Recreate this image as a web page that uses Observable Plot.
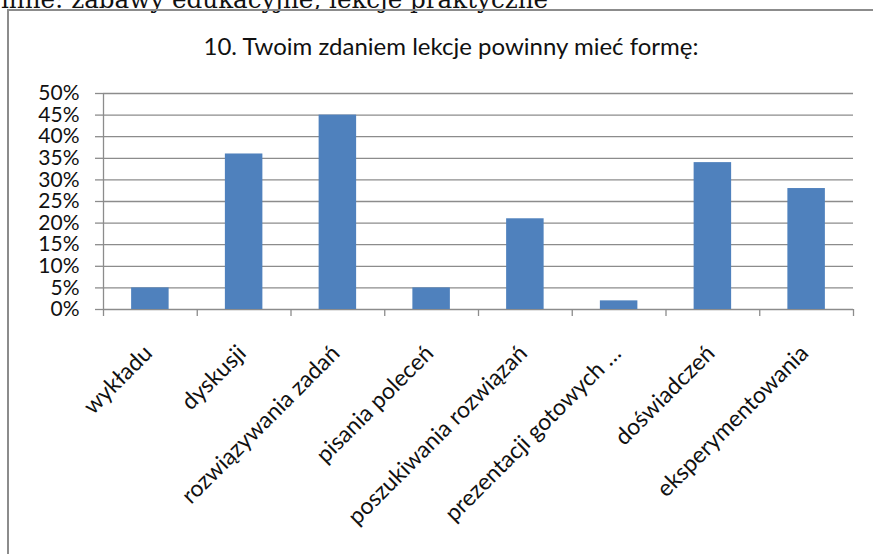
<!DOCTYPE html>
<html>
<head>
<meta charset="utf-8">
<script src="https://cdn.jsdelivr.net/npm/d3@7"></script>
<script src="https://cdn.jsdelivr.net/npm/@observablehq/plot@0.6"></script>
<style>
  html, body { margin: 0; padding: 0; background: #fff; }
  #wrap { position: relative; width: 873px; height: 554px; overflow: hidden; background: #fff; }
  #frame { position: absolute; left: 7px; top: 9px; width: 900px; height: 600px;
           border-top: 2px solid #8c8c8c; border-left: 2px solid #8c8c8c; }
  #pre { position: absolute; left: 1px; top: -15px; font-family: "DejaVu Serif", serif; font-size: 24.6px;
         white-space: nowrap; color: #111; }
  #title { position: absolute; left: 451px; top: 31px; transform: translateX(-50%);
           font-family: Lato, sans-serif; font-size: 24px; color: #111; white-space: nowrap; }
  #chart { position: absolute; left: 0; top: 0; }
</style>
</head>
<body>
<div id="wrap">
  <div id="pre"></div>
  <div id="frame"></div>
  <div id="title"></div>
  <div id="chart"></div>
</div>
<script>
const preText = "inne: zabawy edukacyjne, lekcje praktyczne";
const titleText = "10. Twoim zdaniem lekcje powinny mieć formę:";
const categories = ["wykładu", "dyskusji", "rozwiązywania zadań", "pisania poleceń",
  "poszukiwania rozwiązań", "prezentacji gotowych …", "doświadczeń", "eksperymentowania"];
const values = [0.05, 0.36, 0.45, 0.05, 0.21, 0.02, 0.34, 0.28];
const yTicks = [0, 0.05, 0.10, 0.15, 0.20, 0.25, 0.30, 0.35, 0.40, 0.45, 0.50];

document.getElementById("pre").textContent = preText;
document.getElementById("title").textContent = titleText;

const data = categories.map((c, i) => ({cat: c, i, value: values[i]}));
const boundaries = d3.range(0, categories.length + 1);
const centers = categories.map((c, i) => i + 0.5);
const gray = "#8c8c8c";

const chart = Plot.plot({
  width: 873,
  height: 554,
  marginLeft: 103,
  marginRight: 20,
  marginTop: 93,
  marginBottom: 245,
  style: {fontFamily: "Lato, sans-serif", fontSize: "21px", color: "#111", background: "transparent"},
  x: {type: "linear", domain: [0, categories.length]},
  y: {domain: [0, 0.5]},
  marks: [
    Plot.gridY(yTicks, {stroke: gray, strokeOpacity: 1, strokeWidth: 1.3}),
    Plot.axisY({ticks: yTicks, tickFormat: d3.format(".0%"), tickSize: 8, tickPadding: 16,
      stroke: gray, strokeOpacity: 1, strokeWidth: 1.3, label: null, fill: "#111", fontSize: 21}),
    Plot.ruleX([0], {stroke: gray, strokeWidth: 1.3}),
    Plot.rectY(data, {x1: d => d.i + 0.3, x2: d => d.i + 0.7, y: "value", fill: "#4f81bd"}),
    Plot.axisX({ticks: boundaries, tickSize: 7, tickFormat: () => "", stroke: gray,
      strokeOpacity: 1, strokeWidth: 1.3, label: null}),
    Plot.axisX({ticks: centers, tickSize: 0, tickPadding: 40, tickRotate: -45, dx: -2,
      tickFormat: d => categories[Math.floor(d)], label: null, fill: "#111", fontSize: 23})
  ]
});
document.getElementById("chart").appendChild(chart);
</script>
</body>
</html>
